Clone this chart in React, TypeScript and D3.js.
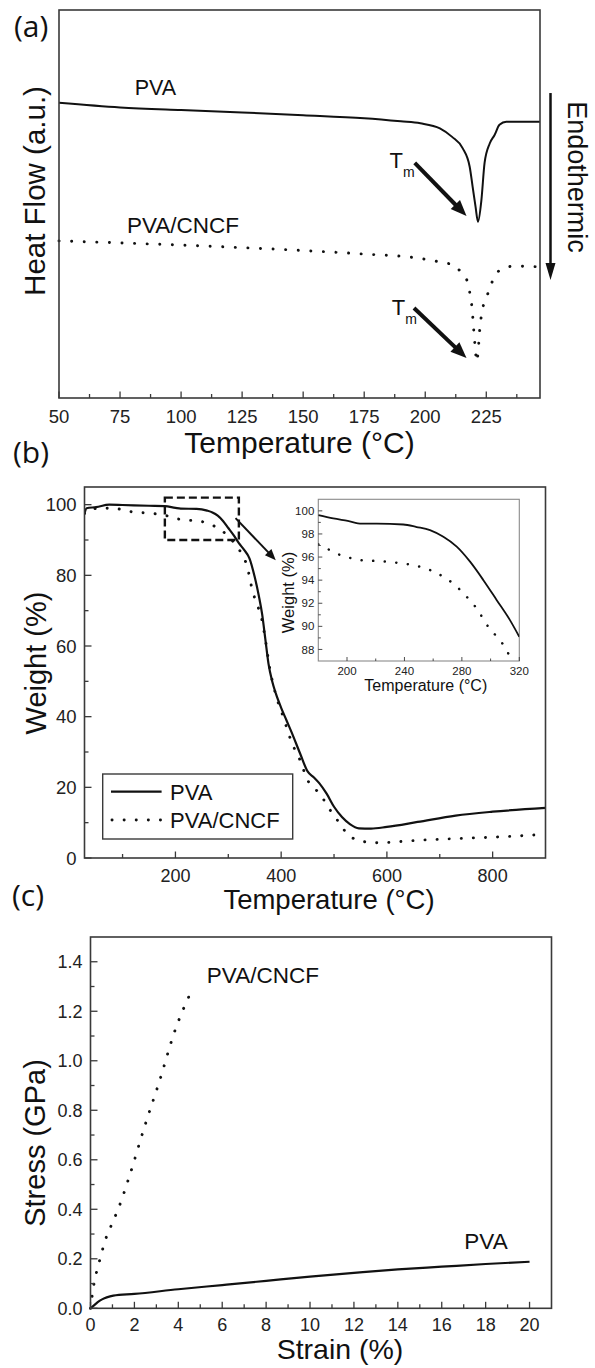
import React from "react";
import * as d3 from "d3";

// ---------- (a) DSC ----------
const dscPva: [number, number][] = [
  [50, 7.61], [75, 7.49], [100, 7.42], [125, 7.36], [150, 7.29], [175, 7.21], [190, 7.13],
  [198, 7.08], [206, 6.95], [211, 6.73], [215.3, 6.44], [218.2, 5.96], [219.4, 5.45],
  [220.6, 4.93], [221.6, 4.54], [223.0, 5.10], [224.3, 6.06], [226.4, 6.56], [228.4, 6.78],
  [230.4, 7.04], [233.2, 7.12], [247, 7.12],
];
const dscCncf: [number, number][] = [
  [50, 4.05], [100, 3.94], [150, 3.8], [175, 3.71], [197.7, 3.6], [203.2, 3.54], [207.2, 3.49],
  [211.3, 3.43], [214.8, 3.23], [217.5, 2.96], [218.4, 2.65], [219.1, 2.35], [219.5, 2.05],
  [219.8, 1.8], [220.2, 1.49], [220.6, 1.19], [221.0, 0.94], [221.6, 1.15], [222.3, 1.75],
  [223.4, 2.27], [225.0, 2.57], [226.4, 2.83], [228.4, 3.13], [231.8, 3.34], [236.6, 3.4], [247, 3.38],
];
const dscMajorTicks = [50, 75, 100, 125, 150, 175, 200, 225];
const dscMinorTicks = [62.5, 87.5, 112.5, 137.5, 162.5, 187.5, 212.5, 237.5];

// ---------- (b) TGA ----------
const tgaPva: [number, number][] = [
  [28, 97.5], [32, 99.0], [50, 99.3], [75, 100.0], [100, 99.9], [150, 99.7], [180, 99.6],
  [200, 99.1], [210, 98.9], [240, 98.8], [260, 98.3], [270, 97.8], [280, 96.9], [290, 95.4],
  [300, 93.4], [310, 91.4], [320, 89.1], [330, 87.2], [340, 84.8], [350, 79.5], [358, 74],
  [364, 69], [370, 62], [376, 55], [383, 50], [390, 46.5], [400, 42.5], [410, 39], [420, 35.5],
  [436, 29.5], [450, 24.5], [462, 22.8], [472, 21.2], [486, 18.2], [500, 14.5], [515, 11.6],
  [530, 9.6], [547, 8.4], [570, 8.3], [600, 8.8], [658, 10.2], [730, 12.0], [800, 13.1], [900, 14.2],
];
const tgaCncf: [number, number][] = [
  [28, 97.5], [35, 98.5], [50, 98.9], [80, 99.0], [100, 98.6], [120, 97.9], [150, 97.6],
  [180, 97.0], [200, 96.1], [220, 95.65], [240, 95.45], [260, 94.8], [270, 94.2], [280, 93.4],
  [290, 92.4], [300, 91.0], [310, 89.4], [320, 87.4], [336, 82.3], [346, 75.5], [355, 71.5],
  [362, 68.5], [370, 62], [378, 54], [385, 49], [393, 44.6], [405, 39.5], [414, 35.2], [425, 31],
  [436, 27.6], [450, 22.0], [462, 20], [472, 18.2], [485, 15.5], [493, 13.5], [505, 11], [515, 8.8],
  [527, 6.5], [537, 5.5], [558, 4.6], [587, 4.3], [620, 4.6], [658, 5.0], [730, 5.5], [800, 5.9], [900, 6.7],
];
const tgaXMajor = [200, 400, 600, 800];
const tgaXMinor = [100, 300, 500, 700];
const tgaYMajor = [0, 20, 40, 60, 80, 100];
const tgaYMinor = [10, 30, 50, 70, 90];
const zoomRect = { t0: 180, t1: 320, w0: 90, w1: 102 };

// inset
const insetPva: [number, number][] = [
  [180, 99.63], [190.4, 99.34], [200.5, 99.13], [210.2, 98.9], [220.7, 98.9], [239.2, 98.82],
  [248.5, 98.6], [257.8, 98.33], [267.1, 97.75], [276.4, 96.9], [285.7, 95.6], [295, 94.0],
  [304.3, 92.27], [313.5, 90.54], [320, 89.1],
];
const insetCncf: [number, number][] = [
  [180, 97.1], [183.5, 96.9], [192.8, 96.3], [202.1, 95.93], [209, 95.73], [223, 95.64],
  [239.2, 95.44], [246.2, 95.3], [257.8, 94.87], [267.1, 94.29], [274, 93.7], [283.4, 92.55],
  [290.3, 91.55], [298.4, 89.96], [305.4, 88.95], [310, 88.2], [313.5, 87.36], [315, 87.0],
];
const insetXMajor = [200, 240, 280, 320];
const insetXMinor = [220, 260, 300];
const insetYMajor = [88, 90, 92, 94, 96, 98, 100];
const insetYMinor = [89, 91, 93, 95, 97, 99];

// ---------- (c) Tensile ----------
const tensCncf: [number, number][] = [
  [0, 0], [0.08, 0.054], [0.16, 0.1], [0.28, 0.148], [0.4, 0.188], [0.52, 0.228], [0.66, 0.272],
  [0.84, 0.313], [1.04, 0.354], [1.3, 0.41], [1.76, 0.53], [2.46, 0.733], [3.15, 0.92],
  [3.84, 1.12], [4.62, 1.286],
];
const tensPva: [number, number][] = [
  [0, 0], [0.2, 0.015], [0.36, 0.027], [0.55, 0.037], [0.74, 0.044], [1.04, 0.051], [2.0, 0.058],
  [4.0, 0.077], [6.0, 0.094], [8.0, 0.111], [10, 0.128], [12, 0.143], [14, 0.157], [16, 0.168],
  [18, 0.179], [20, 0.188],
];
const tensXMajor = [0, 2, 4, 6, 8, 10, 12, 14, 16, 18, 20];
const tensXMinor = [1, 3, 5, 7, 9, 11, 13, 15, 17, 19];
const tensYMajor = [0, 0.2, 0.4, 0.6, 0.8, 1.0, 1.2, 1.4];
const tensYMinor = [0.1, 0.3, 0.5, 0.7, 0.9, 1.1, 1.3];

const FONT = "'Liberation Sans', Arial, sans-serif";
const FONT2 = "'Open Sans', 'Liberation Sans', sans-serif";
const INK = "#111";
const FRAME = "#3a3a3a";

type Scale = d3.ScaleLinear<number, number>;

function Arrow({ x1, y1, x2, y2, w, hl, hw }: { x1: number; y1: number; x2: number; y2: number; w: number; hl: number; hw: number }) {
  const dx = x2 - x1, dy = y2 - y1;
  const L = Math.hypot(dx, dy);
  const ux = dx / L, uy = dy / L;
  const bx = x2 - ux * hl, by = y2 - uy * hl;
  const px = -uy, py = ux;
  return (
    <g>
      <line x1={x1} y1={y1} x2={bx + ux * 2} y2={by + uy * 2} stroke={INK} strokeWidth={w} />
      <polygon
        points={`${x2},${y2} ${bx + px * hw},${by + py * hw} ${bx - px * hw},${by - py * hw}`}
        fill={INK}
      />
    </g>
  );
}

function Series({ data, sx, sy, dotted, width = 2, gap = 12 }: { data: [number, number][]; sx: Scale; sy: Scale; dotted?: boolean; width?: number; gap?: number }) {
  const line = d3
    .line<[number, number]>()
    .x((d) => sx(d[0]))
    .y((d) => sy(d[1]))
    .curve(d3.curveMonotoneX);
  return (
    <path
      d={line(data) || ""}
      fill="none"
      stroke={INK}
      strokeWidth={dotted ? width + 0.6 : width}
      strokeDasharray={dotted ? `0.1 ${gap}` : undefined}
      strokeLinecap={dotted ? "round" : "butt"}
      strokeLinejoin="round"
    />
  );
}

function BottomTicks({ sx, y, major, minor, ml = 6.5, nl = 4, fmt, fs = 18, dy = 25, sw = 1.3 }: any) {
  return (
    <g>
      {major.map((t: number) => (
        <line key={"M" + t} x1={sx(t)} x2={sx(t)} y1={y} y2={y - ml} stroke={FRAME} strokeWidth={sw} />
      ))}
      {minor.map((t: number) => (
        <line key={"m" + t} x1={sx(t)} x2={sx(t)} y1={y} y2={y - nl} stroke={FRAME} strokeWidth={sw} />
      ))}
      {fmt &&
        major.map((t: number) => (
          <text key={"L" + t} x={sx(t)} y={y + dy} textAnchor="middle" fontFamily={FONT} fontSize={fs} fill="#222">
            {fmt(t)}
          </text>
        ))}
    </g>
  );
}

function LeftTicks({ sy, x, major, minor, ml = 7, nl = 4, fmt, fs = 18, dx = 8, sw = 1.3 }: any) {
  return (
    <g>
      {major.map((t: number) => (
        <line key={"M" + t} x1={x} x2={x + ml} y1={sy(t)} y2={sy(t)} stroke={FRAME} strokeWidth={sw} />
      ))}
      {minor.map((t: number) => (
        <line key={"m" + t} x1={x} x2={x + nl} y1={sy(t)} y2={sy(t)} stroke={FRAME} strokeWidth={sw} />
      ))}
      {major.map((t: number) => (
        <text key={"L" + t} x={x - dx} y={sy(t)} dy="0.36em" textAnchor="end" fontFamily={FONT} fontSize={fs} fill="#222">
          {fmt(t)}
        </text>
      ))}
    </g>
  );
}

function PanelA() {
  const sx = d3.scaleLinear().domain([50, 247]).range([59, 540]);
  const sy = d3.scaleLinear().domain([0, 10]).range([398, 10]);
  const [x0, x1] = sx.range();
  const [y0, y1] = sy.range();
  return (
    <g>
      <Series data={dscPva} sx={sx} sy={sy} width={2} />
      <Series data={dscCncf} sx={sx} sy={sy} dotted width={2.3} gap={12.5} />
      <rect x={x0} y={y1} width={x1 - x0} height={y0 - y1} fill="none" stroke={FRAME} strokeWidth={1.6} />
      <BottomTicks sx={sx} y={y0} major={dscMajorTicks} minor={dscMinorTicks} fmt={(t: number) => String(t)} fs={18.5} dy={25} />
      <text x={(x0 + x1) / 2} y={453} textAnchor="middle" fontFamily={FONT} fontSize={30} fill={INK}>
        Temperature (°C)
      </text>
      <text transform={`translate(34,${(y0 + y1) / 2 - 13}) rotate(-90)`} textAnchor="middle" dy="0.36em" fontFamily={FONT} fontSize={29.5} fill={INK}>
        Heat Flow (a.u.)
      </text>
      <text x={14} y={26} dy="0.36em" fontFamily={FONT2} fontSize={30} fill={INK}>(a)</text>
      <text x={sx(81)} y={sy(7.81)} fontFamily={FONT} fontSize={21.5} fill={INK}>PVA</text>
      <text x={sx(77.8)} y={sy(4.25)} fontFamily={FONT} fontSize={22.5} fill={INK}>PVA/CNCF</text>
      <text x={sx(185.4)} y={sy(5.93)} fontFamily={FONT} fontSize={22} fill={INK}>
        T<tspan dy={9} fontSize={14}>m</tspan>
      </text>
      <text x={sx(186.3)} y={sy(2.14)} fontFamily={FONT} fontSize={22} fill={INK}>
        T<tspan dy={9} fontSize={14}>m</tspan>
      </text>
      <Arrow x1={sx(195.7)} y1={sy(6.06)} x2={sx(216.9)} y2={sy(4.69)} w={4} hl={16} hw={6.5} />
      <Arrow x1={sx(195.4)} y1={sy(2.32)} x2={sx(216.9)} y2={sy(1.03)} w={4} hl={16} hw={6.5} />
      <Arrow x1={sx(251.3)} y1={sy(7.86)} x2={sx(251.3)} y2={sy(3.04)} w={2.5} hl={17} hw={5} />
      <text transform={`translate(578,177) rotate(90)`} textAnchor="middle" dy="0.36em" fontFamily={FONT} fontSize={27} fill={INK}>
        Endothermic
      </text>
    </g>
  );
}

function PanelB() {
  const sx = d3.scaleLinear().domain([28, 900]).range([84.5, 545.5]);
  const sy = d3.scaleLinear().domain([0, 105]).range([858, 487]);
  const [x0, x1] = sx.range();
  const [y0, y1] = sy.range();
  const clipId = "clipB";
  const ix = d3.scaleLinear().domain([180, 320]).range([318.3, 519.3]);
  const iy = d3.scaleLinear().domain([87, 101]).range([661, 499.3]);
  return (
    <g>
      <defs>
        <clipPath id={clipId}>
          <rect x={x0} y={y1} width={x1 - x0} height={y0 - y1} />
        </clipPath>
        <clipPath id="clipInset">
          <rect x={ix(180)} y={iy(101)} width={ix(320) - ix(180)} height={iy(87) - iy(101)} />
        </clipPath>
      </defs>
      <g clipPath={`url(#${clipId})`}>
        <Series data={tgaPva} sx={sx} sy={sy} width={2.2} />
        <Series data={tgaCncf} sx={sx} sy={sy} dotted width={2.3} gap={12} />
      </g>
      <rect x={x0} y={y1} width={x1 - x0} height={y0 - y1} fill="none" stroke={FRAME} strokeWidth={1.6} />
      <BottomTicks sx={sx} y={y0} major={tgaXMajor} minor={tgaXMinor} fmt={(t: number) => String(t)} fs={18} dy={24} />
      <LeftTicks sy={sy} x={x0} major={tgaYMajor} minor={tgaYMinor} fmt={(t: number) => String(t)} fs={18.5} dx={8} />
      <text x={329} y={909} textAnchor="middle" fontFamily={FONT} fontSize={27.5} fill={INK}>
        Temperature (°C)
      </text>
      <text transform={`translate(36,663) rotate(-90)`} textAnchor="middle" dy="0.36em" fontFamily={FONT} fontSize={29} fill={INK}>
        Weight (%)
      </text>
      <text x={13} y={452} dy="0.36em" fontFamily={FONT2} fontSize={30} fill={INK}>(b)</text>

      {/* zoom rectangle */}
      <rect
        x={sx(zoomRect.t0)}
        y={sy(zoomRect.w1)}
        width={sx(zoomRect.t1) - sx(zoomRect.t0)}
        height={sy(zoomRect.w0) - sy(zoomRect.w1)}
        fill="none"
        stroke={INK}
        strokeWidth={2.4}
        strokeDasharray="8 4"
      />
      <Arrow x1={sx(313.7)} y1={sy(96.2)} x2={sx(389.8)} y2={sy(84.3)} w={2} hl={11} hw={4.5} />

      {/* legend */}
      <rect x={102.7} y={774} width={190} height={65} fill="#fff" stroke={FRAME} strokeWidth={1.4} />
      <line x1={111} x2={161.6} y1={791.7} y2={791.7} stroke={INK} strokeWidth={2.2} />
      <line x1={112} x2={161.6} y1={820} y2={820} stroke={INK} strokeWidth={2.9} strokeDasharray="0.1 12" strokeLinecap="round" />
      <text x={170} y={800} fontFamily={FONT} fontSize={22} fill={INK}>PVA</text>
      <text x={170} y={828} fontFamily={FONT} fontSize={22} fill={INK}>PVA/CNCF</text>

      {/* inset */}
      <rect x={ix(180)} y={iy(101)} width={ix(320) - ix(180)} height={iy(87) - iy(101)} fill="#fff" stroke="#8a8a8a" strokeWidth={1.1} />
      <g clipPath="url(#clipInset)">
        <Series data={insetPva} sx={ix} sy={iy} width={1.8} />
        <Series data={insetCncf} sx={ix} sy={iy} dotted width={1.9} gap={11.5} />
      </g>
      <BottomTicks sx={ix} y={iy(87)} major={insetXMajor} minor={insetXMinor} ml={4} nl={2.5} fmt={(t: number) => String(t)} fs={11.5} dy={13.5} sw={0.9} />
      <LeftTicks sy={iy} x={ix(180)} major={insetYMajor} minor={insetYMinor} ml={4} nl={2.5} fmt={(t: number) => String(t)} fs={11.5} dx={4} sw={0.9} />
      <text x={425.8} y={691} textAnchor="middle" fontFamily={FONT} fontSize={16} fill={INK}>
        Temperature (°C)
      </text>
      <text transform={`translate(288,592.5) rotate(-90)`} textAnchor="middle" dy="0.36em" fontFamily={FONT} fontSize={16.5} fill={INK}>
        Weight (%)
      </text>
    </g>
  );
}

function PanelC() {
  const sx = d3.scaleLinear().domain([0, 21]).range([90.5, 551.5]);
  const sy = d3.scaleLinear().domain([0, 1.5]).range([1308.3, 937]);
  const [x0, x1] = sx.range();
  const [y0, y1] = sy.range();
  const f1 = d3.format(".1f");
  return (
    <g>
      <Series data={tensPva} sx={sx} sy={sy} width={2.2} />
      <Series data={tensCncf} sx={sx} sy={sy} dotted width={2.3} gap={12} />
      <rect x={x0} y={y1} width={x1 - x0} height={y0 - y1} fill="none" stroke={FRAME} strokeWidth={1.6} />
      <BottomTicks sx={sx} y={y0} major={tensXMajor} minor={tensXMinor} fmt={(t: number) => String(t)} fs={18} dy={23} />
      <LeftTicks sy={sy} x={x0} major={tensYMajor} minor={tensYMinor} fmt={(t: number) => f1(t)} fs={18} dx={8} />
      <text x={340} y={1359} textAnchor="middle" fontFamily={FONT} fontSize={28.5} fill={INK}>
        Strain (%)
      </text>
      <text transform={`translate(35,1143) rotate(-90)`} textAnchor="middle" dy="0.36em" fontFamily={FONT} fontSize={29} fill={INK}>
        Stress (GPa)
      </text>
      <text x={12} y={895} dy="0.36em" fontFamily={FONT2} fontSize={30} fill={INK}>(c)</text>
      <text x={sx(5.3)} y={sy(1.316)} fontFamily={FONT} fontSize={22.5} fill={INK}>PVA/CNCF</text>
      <text x={sx(17.03)} y={sy(0.239)} fontFamily={FONT} fontSize={22.5} fill={INK}>PVA</text>
    </g>
  );
}

export default function App() {
  return (
    <svg
      width={595}
      height={1368}
      viewBox="0 0 595 1368"
      style={{ position: "absolute", left: 0, top: 0, background: "#fff" }}
    >
      <rect x={0} y={0} width={595} height={1368} fill="#fff" />
      <PanelA />
      <PanelB />
      <PanelC />
    </svg>
  );
}
